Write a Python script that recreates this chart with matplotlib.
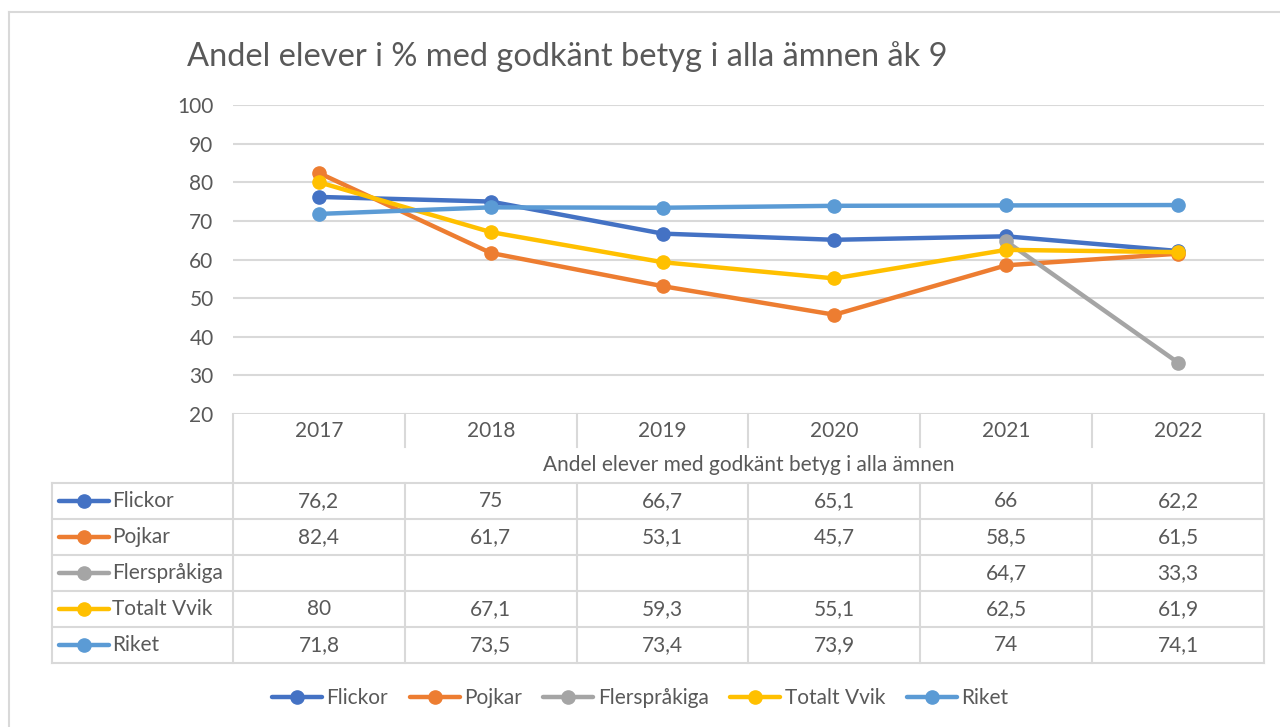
import numpy as np
import matplotlib
matplotlib.use("Agg")
import matplotlib.pyplot as plt
from matplotlib.lines import Line2D
from matplotlib.transforms import blended_transform_factory

plt.rcParams['font.family'] = ['Lato', 'DejaVu Sans']

W, H = 1280, 727
TEXT = '#595959'
GRID = '#D9D9D9'
FS = 15

years = ['2017', '2018', '2019', '2020', '2021', '2022']
flickor = [76.2, 75, 66.7, 65.1, 66, 62.2]
pojkar = [82.4, 61.7, 53.1, 45.7, 58.5, 61.5]
flersprakiga = [np.nan, np.nan, np.nan, np.nan, 64.7, 33.3]
totalt_vvik = [80, 67.1, 59.3, 55.1, 62.5, 61.9]
riket = [71.8, 73.5, 73.4, 73.9, 74, 74.1]

names = ['Flickor', 'Pojkar', 'Flerspråkiga', 'Totalt Vvik', 'Riket']
series = [flickor, pojkar, flersprakiga, totalt_vvik, riket]
colors = ['#4472C4', '#ED7D31', '#A5A5A5', '#FFC000', '#5B9BD5']
yticks = [20, 30, 40, 50, 60, 70, 80, 90, 100]
table_caption = 'Andel elever med godkänt betyg i alla ämnen'


def fy(py):
    return 1 - py / H


def fx(px):
    return px / W


def fmt(v):
    if np.isnan(v):
        return ''
    return f'{v:g}'.replace('.', ',')


fig = plt.figure(figsize=(W / 100, H / 100), dpi=100)

# outer chart frame
fig.add_artist(Line2D([fx(9), 1], [fy(12), fy(12)], color=GRID, lw=1.5))
fig.add_artist(Line2D([fx(9), fx(9)], [fy(12), 0], color=GRID, lw=1.5))

fig.text(fx(187), fy(57), 'Andel elever i % med godkänt betyg i alla ämnen åk 9',
         fontsize=23.5, color=TEXT, va='center', ha='left')

x0, x1, ytop, ybot = 233, 1264, 105, 414
ax = fig.add_axes([fx(x0), fy(ybot), fx(x1 - x0), (ybot - ytop) / H])
ax.set_xlim(-0.5, len(years) - 0.5)
ax.set_ylim(20, 100)
ax.set_yticks(yticks)
ax.set_xticks([])
for s in ax.spines.values():
    s.set_visible(False)
ax.tick_params(axis='y', length=0, pad=14, labelsize=FS, labelcolor=TEXT)
ax.grid(axis='y', color=GRID, lw=1.5)
ax.set_axisbelow(True)

x = np.arange(len(years))
for name, vals, c in zip(names, series, colors):
    ax.plot(x, vals, color=c, lw=3.2, marker='o', ms=9.5, label=name,
            solid_capstyle='round', clip_on=False)

# data table under the plot
tr = blended_transform_factory(ax.transData, fig.transFigure)
lw_t = 1.5
edges = np.arange(len(years) + 1) - 0.5

# header row with years
for i, yr in enumerate(years):
    fig.text(i, fy(431), yr, transform=tr, ha='center', va='center',
             fontsize=FS, color=TEXT)
for e in edges[1:-1]:
    fig.add_artist(Line2D([e, e], [fy(414), fy(447)], transform=tr,
                          color=GRID, lw=lw_t))
fig.text(np.mean(x), fy(465), table_caption, transform=tr, ha='center',
         va='center', fontsize=FS, color=TEXT)

row_top = 483
row_h = 36
label_left = 52
for e in [edges[0], edges[-1]]:
    fig.add_artist(Line2D([e, e], [fy(414), fy(row_top + row_h * len(names))],
                          transform=tr, color=GRID, lw=lw_t))
for e in edges[1:-1]:
    fig.add_artist(Line2D([e, e], [fy(row_top), fy(row_top + row_h * len(names))],
                          transform=tr, color=GRID, lw=lw_t))
fig.add_artist(Line2D([fx(label_left), fx(label_left)],
                      [fy(row_top), fy(row_top + row_h * len(names))],
                      color=GRID, lw=lw_t))
for r in range(len(names) + 1):
    yy = fy(row_top + r * row_h)
    fig.add_artist(Line2D([fx(label_left), fx(x1)], [yy, yy], color=GRID, lw=lw_t))

for r, (name, vals, c) in enumerate(zip(names, series, colors)):
    yc = fy(row_top + r * row_h + row_h / 2)
    fig.add_artist(Line2D([fx(59), fx(109)], [yc, yc], color=c, lw=3.2,
                          solid_capstyle='round'))
    fig.add_artist(Line2D([fx(84)], [yc], color=c, marker='o', ms=9.5))
    fig.text(fx(112), yc, name, ha='left', va='center', fontsize=FS, color=TEXT)
    for i, v in enumerate(vals):
        fig.text(i, yc, fmt(v), transform=tr, ha='center', va='center',
                 fontsize=FS, color=TEXT)

handles, labels = ax.get_legend_handles_labels()
fig.legend(handles, labels, loc='center', bbox_to_anchor=(0.5, fy(698)),
           ncol=5, frameon=False, fontsize=FS, labelcolor=TEXT,
           handlelength=2.4, handletextpad=0.2, columnspacing=1.05)

fig.savefig('out.png', dpi=100, facecolor='white')
